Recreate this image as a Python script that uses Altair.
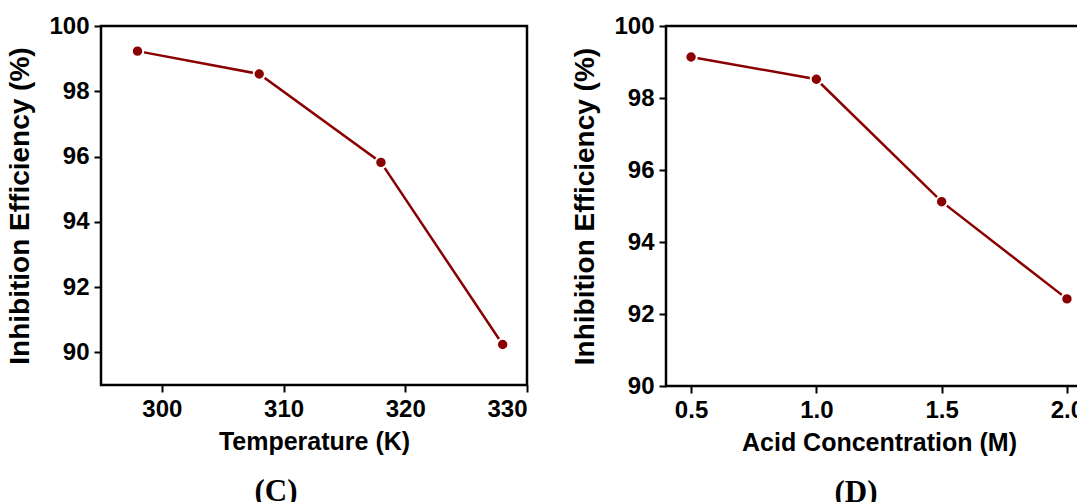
import altair as alt
import pandas as pd

# Panel C: inhibition efficiency vs temperature
temp_k = [298, 308, 318, 328]
ie_temp = [99.23, 98.53, 95.82, 90.24]

# Panel D: inhibition efficiency vs acid concentration
acid_m = [0.5, 1.0, 1.5, 2.0]
ie_acid = [99.14, 98.52, 95.12, 92.42]

x_ticks_c = [300, 310, 320, 330]
x_ticks_d = [0.5, 1.0, 1.5, 2.0]
y_ticks = [90, 92, 94, 96, 98, 100]

RED = "#8B0000"
SANS = "Liberation Sans"
SERIF = "Liberation Serif"

df_c = pd.DataFrame({"x": temp_k, "y": ie_temp})
df_d = pd.DataFrame({"x": acid_m, "y": ie_acid})


def panel(df, xdom, xticks, xfmt, ydom, xtitle, label, dx, w, h):
    x = alt.X("x:Q", scale=alt.Scale(domain=xdom, nice=False, zero=False),
              axis=alt.Axis(values=xticks, format=xfmt, title=xtitle))
    y = alt.Y("y:Q", scale=alt.Scale(domain=ydom, nice=False, zero=False),
              axis=alt.Axis(values=y_ticks, format="d",
                            title="Inhibition Efficiency (%)"))
    base = alt.Chart(df)
    line = base.mark_line(color=RED, strokeWidth=2.5).encode(x=x, y=y)
    pts = base.mark_circle(color=RED, size=130, opacity=1, stroke="white",
                           strokeWidth=2).encode(x=x, y=y)
    return alt.layer(line, pts).properties(
        width=w, height=h,
        title=alt.TitleParams(label, orient="bottom", font=SERIF, fontSize=31,
                              fontWeight="bold", color="black", dx=dx,
                              offset=23, anchor="middle"),
    )


left = panel(df_c, [295, 330], x_ticks_c, "d", [89, 100],
             "Temperature (K)", "(C)", -38, 426, 359)
right = panel(df_d, [0.4, 2.1], x_ticks_d, ".1f", [90, 100],
              "Acid Concentration (M)", "(D)", -23, 426, 360)

chart = alt.hconcat(left, right, spacing=40).properties(
    padding={"left": -3, "top": 4, "right": -17, "bottom": 0}
).configure_view(
    stroke="black", strokeWidth=2.5
).configure_axis(
    grid=False, domain=False,
    ticks=True, tickColor="black", tickWidth=2, tickSize=7,
    labelFont=SANS, labelFontSize=24, labelFontWeight="bold",
    labelColor="black", labelPadding=5,
    titleFont=SANS, titleFontWeight="bold", titleColor="black",
).configure_axisX(
    titleFontSize=25, titlePadding=8,
).configure_axisY(
    titleFontSize=28, titlePadding=14,
)

chart.save("out.html", embed_options={"renderer": "svg", "actions": False})
